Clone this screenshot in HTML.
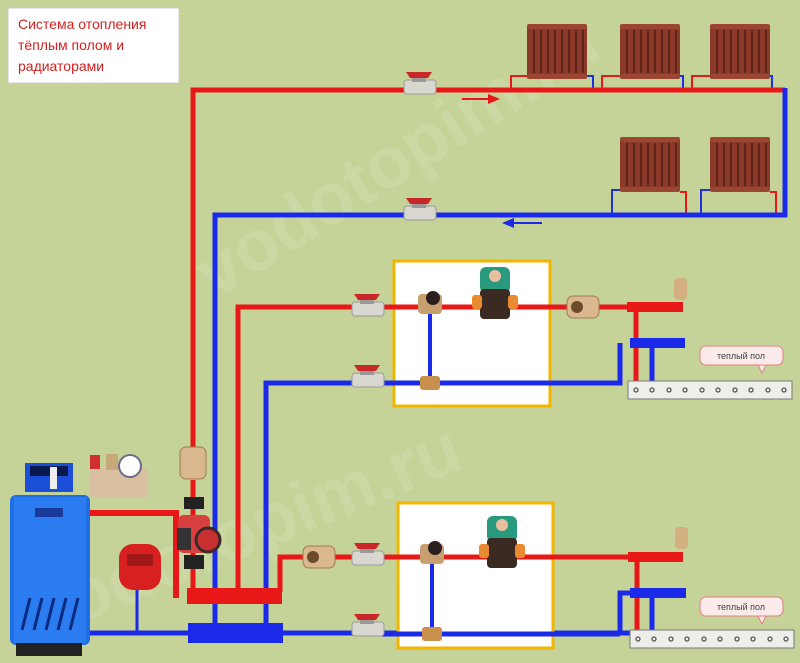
<!DOCTYPE html>
<html><head><meta charset="utf-8"><style>
html,body{margin:0;padding:0;background:#c5d399;}
svg{display:block}
text{font-family:"Liberation Sans",sans-serif}
</style></head><body>
<svg width="800" height="663" viewBox="0 0 800 663" xmlns="http://www.w3.org/2000/svg">
<defs>
<g id="rad">
<rect x="0" y="2" width="60" height="52" fill="#8b3a2a"/>
<rect x="0" y="0" width="60" height="5" rx="2" fill="#9a4633"/>
<rect x="0" y="50" width="60" height="5" rx="2" fill="#9a4633"/>
<g stroke="#5e2218" stroke-width="2">
<line x1="7" y1="6" x2="7" y2="49"/><line x1="14" y1="6" x2="14" y2="49"/><line x1="21" y1="6" x2="21" y2="49"/><line x1="28" y1="6" x2="28" y2="49"/><line x1="35" y1="6" x2="35" y2="49"/><line x1="42" y1="6" x2="42" y2="49"/><line x1="49" y1="6" x2="49" y2="49"/><line x1="56" y1="6" x2="56" y2="49"/>
</g></g>
<g id="valve">
<rect x="0" y="8" width="32" height="14" rx="3" fill="#d8d8d0" stroke="#999" stroke-width="1"/>
<rect x="8" y="4" width="14" height="6" fill="#999"/>
<path d="M2 0 L28 0 L24 6 L6 6Z" fill="#c8282a"/>
</g>
<g id="check">
<rect x="0" y="0" width="32" height="22" rx="6" fill="#d9b88f" stroke="#a07a50"/>
<circle cx="10" cy="11" r="6" fill="#6b4a2a"/>
</g>
<g id="manifold">
<rect x="0" y="0" width="164" height="18" fill="#eeeeea" stroke="#777"/>
<g fill="none" stroke="#555" stroke-width="1.3">
<circle cx="8" cy="9" r="2"/><circle cx="24" cy="9" r="2"/><circle cx="41" cy="9" r="2"/><circle cx="57" cy="9" r="2"/><circle cx="74" cy="9" r="2"/><circle cx="90" cy="9" r="2"/><circle cx="107" cy="9" r="2"/><circle cx="123" cy="9" r="2"/><circle cx="140" cy="9" r="2"/><circle cx="156" cy="9" r="2"/>
</g></g>
<g id="bubble">
<rect x="0" y="0" width="83" height="19" rx="6" fill="#fbeaea" stroke="#e08080"/>
<path d="M58 19 L62 27 L66 19Z" fill="#fbeaea" stroke="#e08080"/>
<text x="41" y="13" font-size="9" fill="#444" text-anchor="middle">теплый пол</text>
</g>
<g id="pump">
<rect x="0" y="-14" width="30" height="26" rx="6" fill="#2a9a7e"/>
<circle cx="15" cy="-5" r="6" fill="#e8c0a0"/>
<rect x="0" y="8" width="30" height="30" rx="4" fill="#3a2a22"/>
<rect x="-8" y="14" width="10" height="14" rx="3" fill="#e88a30"/>
<rect x="28" y="14" width="10" height="14" rx="3" fill="#e88a30"/>
</g>
<g id="mix">
<rect x="0" y="-8" width="24" height="20" rx="4" fill="#c8a070"/>
<circle cx="15" cy="-4" r="7" fill="#2a1e1e"/>
</g>
</defs>

<!-- watermarks -->
<g fill="#dde4c0" opacity="0.3" font-weight="bold">
<text x="0" y="0" font-size="72" transform="translate(215,300) rotate(-32)">vodotopim.ru</text>
<text x="0" y="0" font-size="72" transform="translate(40,640) rotate(-22)">vodotopim.ru</text>
</g>

<!-- title -->
<rect x="8" y="8" width="171" height="75" fill="#fff" stroke="#ccc"/>
<text x="18" y="29" font-size="14" fill="#d42020">Система отопления</text>
<text x="18" y="50" font-size="14" fill="#d42020">тёплым полом и</text>
<text x="18" y="71" font-size="14" fill="#d42020">радиаторами</text>

<!-- radiators -->
<use href="#rad" x="527" y="24"/><use href="#rad" x="620" y="24"/><use href="#rad" x="710" y="24"/>
<use href="#rad" x="620" y="137"/><use href="#rad" x="710" y="137"/>
<g fill="none" stroke-width="2">
<path d="M511 90 V76 H527" stroke="#e81818"/><path d="M602 90 V76 H620" stroke="#e81818"/>
<path d="M593 90 V76 H587" stroke="#2030e0"/><path d="M683 90 V76 H680" stroke="#2030e0"/><path d="M692 90 V76 H710" stroke="#e81818"/><path d="M772 90 V76 H770" stroke="#2030e0"/>
<path d="M612 215 V190 H620" stroke="#2030e0"/><path d="M686 215 V192 H680" stroke="#e81818"/>
<path d="M701 215 V190 H710" stroke="#2030e0"/><path d="M776 215 V192 H770" stroke="#e81818"/>
</g>

<!-- main pipes -->
<g fill="none" stroke-width="5">
<path d="M193 450 V90 H785" stroke="#e81818"/>
<path d="M785 88 V215 H215 V625" stroke="#1a2ae8"/>
<path d="M238 590 V307 H630" stroke="#e81818"/>
<path d="M266 625 V383 H620 V343" stroke="#1a2ae8"/>
<path d="M88 513 H176 V598" stroke="#e81818" stroke-width="6"/>
<path d="M193 480 V590" stroke="#e81818"/>
<path d="M280 592 V557 H630" stroke="#e81818"/>
<path d="M85 633 H630" stroke="#1a2ae8"/>
<path d="M620 633 V593 H632" stroke="#1a2ae8"/>
<path d="M137 588 V633" stroke="#1a2ae8" stroke-width="3"/>
</g>
<!-- arrows -->
<path d="M462 99 H495" stroke="#e81818" stroke-width="2"/><path d="M500 99 L488 94 L488 104Z" fill="#e81818"/>
<path d="M507 223 H542" stroke="#1a2ae8" stroke-width="2"/><path d="M502 223 L514 218 L514 228Z" fill="#1a2ae8"/>

<!-- headers -->
<rect x="187" y="588" width="95" height="16" fill="#e81818"/>
<rect x="188" y="623" width="95" height="20" fill="#1a2ae8"/>

<!-- modules -->
<rect x="394" y="261" width="156" height="145" fill="#fff" stroke="#f2b600" stroke-width="3"/>
<rect x="398" y="503" width="155" height="145" fill="#fff" stroke="#f2b600" stroke-width="3"/>
<g stroke-width="5" fill="none">
<path d="M380 307 H630" stroke="#e81818"/><path d="M380 383 H620" stroke="#1a2ae8"/>
<path d="M430 310 V383" stroke="#1a2ae8" stroke-width="4"/>
<path d="M380 557 H630" stroke="#e81818"/><path d="M380 634 H620" stroke="#1a2ae8"/>
<path d="M432 560 V634" stroke="#1a2ae8" stroke-width="4"/>
<path d="M636 307 V382" stroke="#e81818"/><path d="M652 343 V382" stroke="#1a2ae8"/>
<path d="M637 557 V630" stroke="#e81818"/><path d="M652 593 V630" stroke="#1a2ae8"/>
</g>
<rect x="627" y="302" width="56" height="10" fill="#e81818"/>
<rect x="630" y="338" width="55" height="10" fill="#1a2ae8"/>
<rect x="628" y="552" width="55" height="10" fill="#e81818"/>
<rect x="630" y="588" width="56" height="10" fill="#1a2ae8"/>
<use href="#manifold" x="628" y="381"/><use href="#manifold" x="630" y="630"/>
<use href="#bubble" x="700" y="346"/><use href="#bubble" x="700" y="597"/>
<rect x="674" y="278" width="13" height="22" rx="4" fill="#d4b080"/>
<rect x="675" y="527" width="13" height="22" rx="4" fill="#d4b080"/>
<use href="#pump" x="480" y="281"/><use href="#pump" x="487" y="530"/>
<use href="#mix" x="418" y="302"/><use href="#mix" x="420" y="552"/>
<rect x="420" y="376" width="20" height="14" rx="3" fill="#c8904a"/>
<rect x="422" y="627" width="20" height="14" rx="3" fill="#c8904a"/>

<!-- valves -->
<use href="#valve" x="404" y="72"/><use href="#valve" x="404" y="198"/>
<use href="#valve" x="352" y="294"/><use href="#valve" x="352" y="365"/>
<use href="#valve" x="352" y="543"/><use href="#valve" x="352" y="614"/>
<use href="#check" x="567" y="296"/><use href="#check" x="303" y="546"/>
<rect x="180" y="447" width="26" height="32" rx="6" fill="#d9b88f" stroke="#a07a50"/>

<!-- boiler-side pump -->
<rect x="184" y="497" width="20" height="12" fill="#222"/>
<rect x="178" y="515" width="32" height="38" rx="6" fill="#d84040"/>
<rect x="177" y="528" width="14" height="22" fill="#333"/>
<circle cx="208" cy="540" r="12" fill="#c83030" stroke="#3a2a2a" stroke-width="3"/>
<rect x="184" y="555" width="20" height="14" fill="#222"/>
<!-- safety group -->
<rect x="90" y="468" width="58" height="30" rx="4" fill="#d8c0a0"/>
<rect x="90" y="455" width="10" height="14" fill="#d03030"/>
<rect x="106" y="454" width="12" height="16" fill="#c8a878"/>
<circle cx="130" cy="466" r="11" fill="#fff" stroke="#6a6a8a" stroke-width="2"/>
<!-- expansion tank -->
<rect x="119" y="544" width="42" height="46" rx="14" fill="#d82020"/>
<rect x="127" y="554" width="26" height="12" fill="#a01818"/>
<!-- boiler -->
<rect x="25" y="463" width="48" height="29" fill="#1c4fd8"/>
<rect x="30" y="466" width="38" height="10" fill="#0a1850"/>
<rect x="50" y="467" width="7" height="22" fill="#eee"/>
<rect x="10" y="495" width="80" height="150" rx="6" fill="#1e6ee6"/>
<rect x="14" y="497" width="72" height="146" fill="#2a7cf0"/>
<rect x="35" y="508" width="28" height="9" fill="#1a3a9a"/>
<g stroke="#0a2a80" stroke-width="3">
<path d="M22 630 L30 598 M34 630 L42 598 M46 630 L54 598 M58 630 L66 598 M70 630 L78 598"/>
</g>
<rect x="16" y="643" width="66" height="13" fill="#222"/>
</svg>
</body></html>
